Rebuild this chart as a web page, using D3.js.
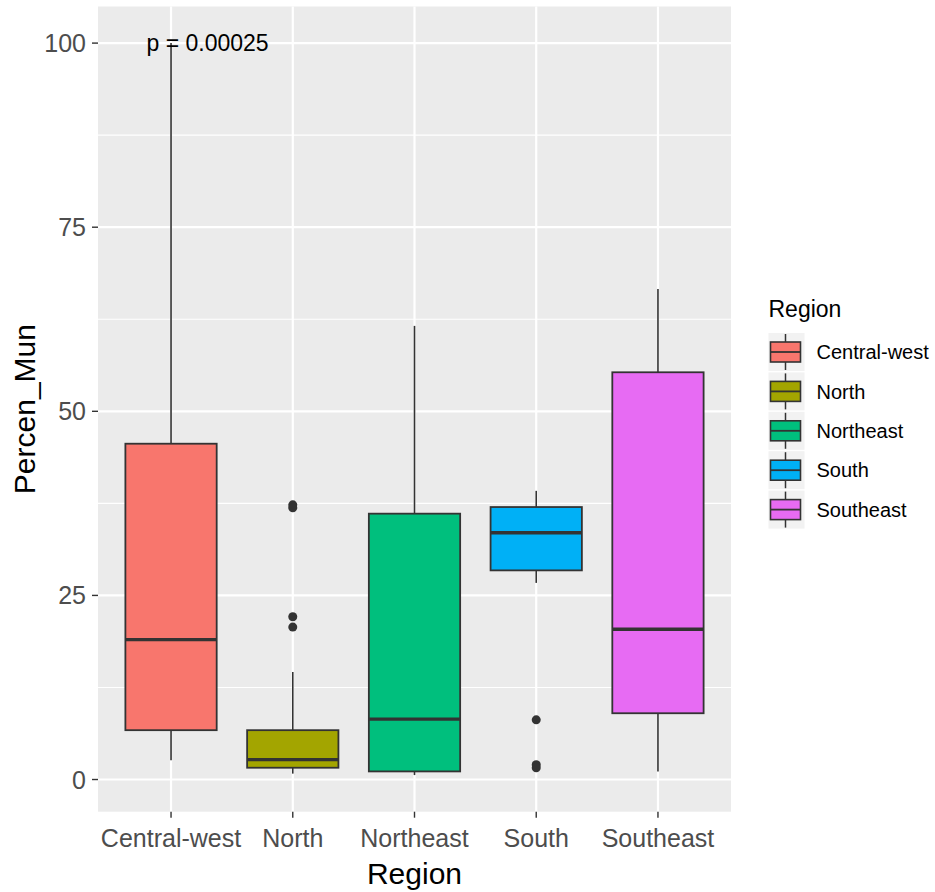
<!DOCTYPE html>
<html>
<head>
<meta charset="utf-8">
<script src="https://cdn.jsdelivr.net/npm/d3@7"></script>
<style>
  html, body { margin: 0; padding: 0; background: #ffffff; }
  svg { display: block; font-family: "Liberation Sans", Arial, sans-serif; }
</style>
</head>
<body>
<svg id="chart" width="935" height="892"></svg>
<script>
// Box-plot summary statistics per region
const categories  = ["Central-west", "North", "Northeast", "South", "Southeast"];
const whiskerLow  = [2.6, 0.8, 0.6, 26.7, 1.1];
const q1          = [6.7, 1.6, 1.1, 28.4, 9.0];
const medians     = [19.0, 2.7, 8.2, 33.5, 20.4];
const q3          = [45.6, 6.7, 36.1, 37.0, 55.3];
const whiskerHigh = [100, 14.6, 61.6, 39.2, 66.6];
const outlierRegion = ["North", "North", "North", "North", "South", "South", "South"];
const outlierValue  = [37.3, 36.9, 22.1, 20.7, 8.1, 2.0, 1.6];
const fills = ["#F8766D", "#A3A500", "#00BF7D", "#00B0F6", "#E76BF3"];
const yTicks = [0, 25, 50, 75, 100];
const yMinor = [12.5, 37.5, 62.5, 87.5];
const pLabel = "p = 0.00025";
const pLabelY = 100;

const svg = d3.select("#chart");
const panel = { left: 98, right: 731, top: 6.5, bottom: 811.7 };

// y domain: data range expanded by 5% on each side
const allVals = whiskerLow.concat(whiskerHigh, outlierValue, [pLabelY]);
const lo = d3.min(allVals), hi = d3.max(allVals), pad = (hi - lo) * 0.05;
const y = d3.scaleLinear().domain([lo - pad, hi + pad]).range([panel.bottom, panel.top]);
const x = d3.scalePoint().domain(categories).range([panel.left, panel.right]).padding(0.6);
const boxW = x.step() * 0.75;

// panel background and grid
svg.append("rect")
  .attr("x", panel.left).attr("y", panel.top)
  .attr("width", panel.right - panel.left).attr("height", panel.bottom - panel.top)
  .attr("fill", "#EBEBEB");

const grid = svg.append("g");
grid.selectAll(".minor").data(yMinor).join("line")
  .attr("x1", panel.left).attr("x2", panel.right)
  .attr("y1", d => y(d)).attr("y2", d => y(d))
  .attr("stroke", "#ffffff").attr("stroke-width", 1.1);
grid.selectAll(".majorY").data(yTicks).join("line")
  .attr("x1", panel.left).attr("x2", panel.right)
  .attr("y1", d => y(d)).attr("y2", d => y(d))
  .attr("stroke", "#ffffff").attr("stroke-width", 2.2);
grid.selectAll(".majorX").data(categories).join("line")
  .attr("x1", d => x(d)).attr("x2", d => x(d))
  .attr("y1", panel.top).attr("y2", panel.bottom)
  .attr("stroke", "#ffffff").attr("stroke-width", 2.2);

// boxes
const rows = categories.map((c, i) => ({
  c, lo: whiskerLow[i], q1: q1[i], med: medians[i], q3: q3[i], hi: whiskerHigh[i], fill: fills[i]
}));
const boxes = svg.append("g").selectAll("g").data(rows).join("g");
boxes.append("line")
  .attr("x1", d => x(d.c)).attr("x2", d => x(d.c))
  .attr("y1", d => y(d.hi)).attr("y2", d => y(d.q3))
  .attr("stroke", "#333333").attr("stroke-width", 1.6);
boxes.append("line")
  .attr("x1", d => x(d.c)).attr("x2", d => x(d.c))
  .attr("y1", d => y(d.q1)).attr("y2", d => y(d.lo))
  .attr("stroke", "#333333").attr("stroke-width", 1.6);
boxes.append("rect")
  .attr("x", d => x(d.c) - boxW / 2).attr("width", boxW)
  .attr("y", d => y(d.q3)).attr("height", d => y(d.q1) - y(d.q3))
  .attr("fill", d => d.fill).attr("stroke", "#333333").attr("stroke-width", 1.8);
boxes.append("line")
  .attr("x1", d => x(d.c) - boxW / 2).attr("x2", d => x(d.c) + boxW / 2)
  .attr("y1", d => y(d.med)).attr("y2", d => y(d.med))
  .attr("stroke", "#333333").attr("stroke-width", 3.4);

// outliers
svg.append("g").selectAll("circle").data(outlierValue).join("circle")
  .attr("cx", (d, i) => x(outlierRegion[i])).attr("cy", d => y(d))
  .attr("r", 4.5).attr("fill", "#333333");

// p-value annotation
svg.append("text")
  .attr("x", 146.5).attr("y", y(pLabelY)).attr("dy", "0.36em")
  .attr("font-size", 23).attr("fill", "#000000")
  .text(pLabel);

// y axis
const yAxis = svg.append("g");
yAxis.selectAll("line").data(yTicks).join("line")
  .attr("x1", panel.left - 6).attr("x2", panel.left)
  .attr("y1", d => y(d)).attr("y2", d => y(d))
  .attr("stroke", "#333333").attr("stroke-width", 1.4);
yAxis.selectAll("text").data(yTicks).join("text")
  .attr("x", 86).attr("y", d => y(d)).attr("dy", "0.36em")
  .attr("text-anchor", "end").attr("font-size", 25).attr("fill", "#4D4D4D")
  .text(d => d);

// x axis
const xAxis = svg.append("g");
xAxis.selectAll("line").data(categories).join("line")
  .attr("x1", d => x(d)).attr("x2", d => x(d))
  .attr("y1", panel.bottom).attr("y2", panel.bottom + 6)
  .attr("stroke", "#333333").attr("stroke-width", 1.4);
xAxis.selectAll("text").data(categories).join("text")
  .attr("x", d => x(d)).attr("y", 847)
  .attr("text-anchor", "middle").attr("font-size", 25).attr("fill", "#4D4D4D")
  .text(d => d);

// axis titles
svg.append("text")
  .attr("x", (panel.left + panel.right) / 2).attr("y", 884)
  .attr("text-anchor", "middle").attr("font-size", 30).attr("fill", "#000000")
  .text("Region");
svg.append("text")
  .attr("transform", `translate(35,${(panel.top + panel.bottom) / 2}) rotate(-90)`)
  .attr("text-anchor", "middle").attr("font-size", 30).attr("fill", "#000000")
  .text("Percen_Mun");

// legend
const legend = svg.append("g");
legend.append("text")
  .attr("x", 768.5).attr("y", 317)
  .attr("font-size", 23).attr("fill", "#000000")
  .text("Region");
const keyStep = 39.4, keyTop = 333;
const keys = legend.selectAll("g.key").data(rows).join("g")
  .attr("class", "key")
  .attr("transform", (d, i) => `translate(768.5,${keyTop + i * keyStep})`);
keys.append("rect").attr("width", 36).attr("height", 38).attr("fill", "#F2F2F2");
keys.append("line").attr("x1", 17).attr("x2", 17).attr("y1", 1).attr("y2", 37)
  .attr("stroke", "#333333").attr("stroke-width", 1.5);
keys.append("rect").attr("x", 2).attr("y", 9).attr("width", 30).attr("height", 20)
  .attr("fill", d => d.fill).attr("stroke", "#333333").attr("stroke-width", 1.6);
keys.append("line").attr("x1", 2).attr("x2", 32).attr("y1", 19).attr("y2", 19)
  .attr("stroke", "#333333").attr("stroke-width", 1.8);
keys.append("text")
  .attr("x", 48).attr("y", 19).attr("dy", "0.36em")
  .attr("font-size", 20).attr("fill", "#000000")
  .text(d => d.c);
</script>
</body>
</html>
